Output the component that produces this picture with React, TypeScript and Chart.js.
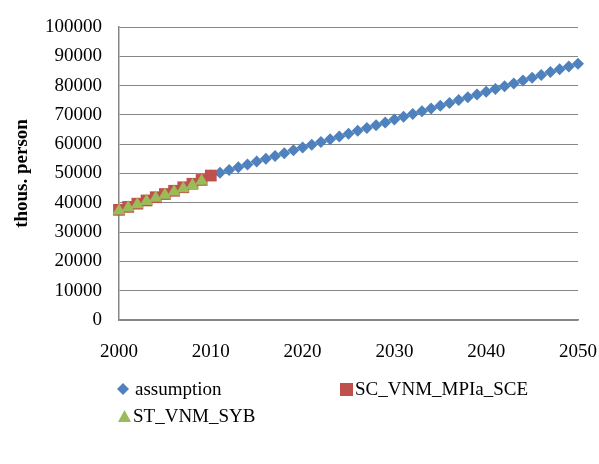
import React, { useEffect, useRef } from "react";
import { Chart, registerables } from "chart.js";

Chart.register(...registerables);

// ---- Data ----
const assumptionYears = [
  2010, 2011, 2012, 2013, 2014, 2015, 2016, 2017, 2018, 2019,
  2020, 2021, 2022, 2023, 2024, 2025, 2026, 2027, 2028, 2029,
  2030, 2031, 2032, 2033, 2034, 2035, 2036, 2037, 2038, 2039,
  2040, 2041, 2042, 2043, 2044, 2045, 2046, 2047, 2048, 2049, 2050,
];
const assumptionValues = [
  49300, 50250, 51200, 52150, 53100, 54100, 55050, 56000, 56950, 57900,
  58850, 59800, 60750, 61700, 62650, 63600, 64550, 65500, 66450, 67400,
  68400, 69350, 70300, 71250, 72200, 73150, 74100, 75050, 76000, 76950,
  77900, 78850, 79800, 80750, 81700, 82650, 83600, 84600, 85550, 86500, 87500,
];

const mpiYears = [2000, 2001, 2002, 2003, 2004, 2005, 2006, 2007, 2008, 2009, 2010];
const mpiValues = [37600, 38600, 39700, 40800, 41900, 43000, 44100, 45300, 46500, 47800, 49300];

const sybYears = [2000, 2001, 2002, 2003, 2004, 2005, 2006, 2007, 2008, 2009];
const sybValues = [37300, 38300, 39400, 40500, 41600, 42700, 43800, 44900, 46000, 47400];

const seriesNames = ["assumption", "SC_VNM_MPIa_SCE", "ST_VNM_SYB"];
const seriesColors = ["#4F81BD", "#C0504D", "#9BBB59"];

const xMin = 2000;
const xMax = 2050;
const xStep = 10;
const yMin = 0;
const yMax = 100000;
const yStep = 10000;
const yTitle = "thous. person";

const FONT = "'Liberation Serif', 'Times New Roman', serif";

function toPoints(xs: number[], ys: number[]) {
  return xs.map((x, i) => ({ x, y: ys[i] }));
}

const W = 599;
const H = 464;

export default function App() {
  const canvasRef = useRef<HTMLCanvasElement | null>(null);

  useEffect(() => {
    if (!canvasRef.current) return;
    const chart = new Chart(canvasRef.current, {
      type: "scatter",
      data: {
        datasets: [
          {
            label: seriesNames[0],
            data: toPoints(assumptionYears, assumptionValues),
            pointStyle: "rectRot",
            pointRadius: 6,
            backgroundColor: seriesColors[0],
            borderColor: seriesColors[0],
            borderWidth: 0,
            order: 2,
            clip: false as any,
          },
          {
            label: seriesNames[1],
            data: toPoints(mpiYears, mpiValues),
            pointStyle: "rect",
            pointRadius: 8.3,
            backgroundColor: seriesColors[1],
            borderColor: seriesColors[1],
            borderWidth: 0,
            order: 1,
            clip: false as any,
          },
          {
            label: seriesNames[2],
            data: toPoints(sybYears, sybValues),
            pointStyle: "triangle",
            pointRadius: 7.5,
            backgroundColor: seriesColors[2],
            borderColor: seriesColors[2],
            borderWidth: 0,
            order: 0,
            clip: false as any,
          },
        ],
      },
      options: {
        responsive: false,
        animation: false,
        devicePixelRatio: 1,
        layout: { padding: { top: 27, right: 21, bottom: 0, left: 8 } },
        plugins: {
          legend: { display: false },
          tooltip: { enabled: false },
        },
        scales: {
          x: {
            type: "linear",
            min: xMin,
            max: xMax,
            grid: { display: false, drawTicks: false },
            border: { display: true, color: "#868686", width: 1.5 },
            ticks: {
              stepSize: xStep,
              padding: 21,
              color: "#000",
              font: { family: FONT, size: 19 },
              callback: (v: any) => String(v),
              maxRotation: 0,
            },
            afterFit: (scale: any) => {
              scale.height = 144;
              scale.paddingRight = 0;
              scale.paddingLeft = 0;
            },
          },
          y: {
            type: "linear",
            min: yMin,
            max: yMax,
            grid: { color: "#868686", lineWidth: 1, drawTicks: false },
            border: { display: true, color: "#868686", width: 1.5 },
            ticks: {
              stepSize: yStep,
              padding: 17,
              color: "#000",
              font: { family: FONT, size: 19 },
              callback: (v: any) => String(v),
            },
            title: {
              display: true,
              text: yTitle,
              color: "#000",
              font: { family: FONT, size: 19, weight: "bold" },
              padding: { top: 3, bottom: 0 },
            },
            afterFit: (scale: any) => {
              scale.width = 111;
              scale.paddingTop = 0;
              scale.paddingBottom = 0;
            },
          },
        },
      },
    });
    return () => chart.destroy();
  }, []);

  const legendText: React.CSSProperties = {
    fontFamily: FONT,
    fontSize: 19,
    lineHeight: "22px",
    color: "#000",
    whiteSpace: "nowrap",
  };
  const itemStyle = (left: number, top: number): React.CSSProperties => ({
    position: "absolute",
    left,
    top,
    height: 22,
    display: "flex",
    alignItems: "center",
  });

  return (
    <div style={{ position: "absolute", left: 0, top: 0, width: W, height: H, overflow: "hidden" }}>
      <canvas ref={canvasRef} width={W} height={H} style={{ display: "block" }} />
      <div style={itemStyle(117, 378)}>
        <svg width={12} height={12} style={{ marginRight: 6 }}>
          <polygon points="6,0 12,6 6,12 0,6" fill={seriesColors[0]} />
        </svg>
        <span style={legendText}>{seriesNames[0]}</span>
      </div>
      <div style={itemStyle(340, 378)}>
        <svg width={13} height={13} style={{ marginRight: 2 }}>
          <rect x={0} y={0} width={13} height={13} fill={seriesColors[1]} />
        </svg>
        <span style={legendText}>{seriesNames[1]}</span>
      </div>
      <div style={itemStyle(118, 405)}>
        <svg width={13} height={12} style={{ marginRight: 2 }}>
          <polygon points="6.5,0 13,12 0,12" fill={seriesColors[2]} />
        </svg>
        <span style={legendText}>{seriesNames[2]}</span>
      </div>
    </div>
  );
}
